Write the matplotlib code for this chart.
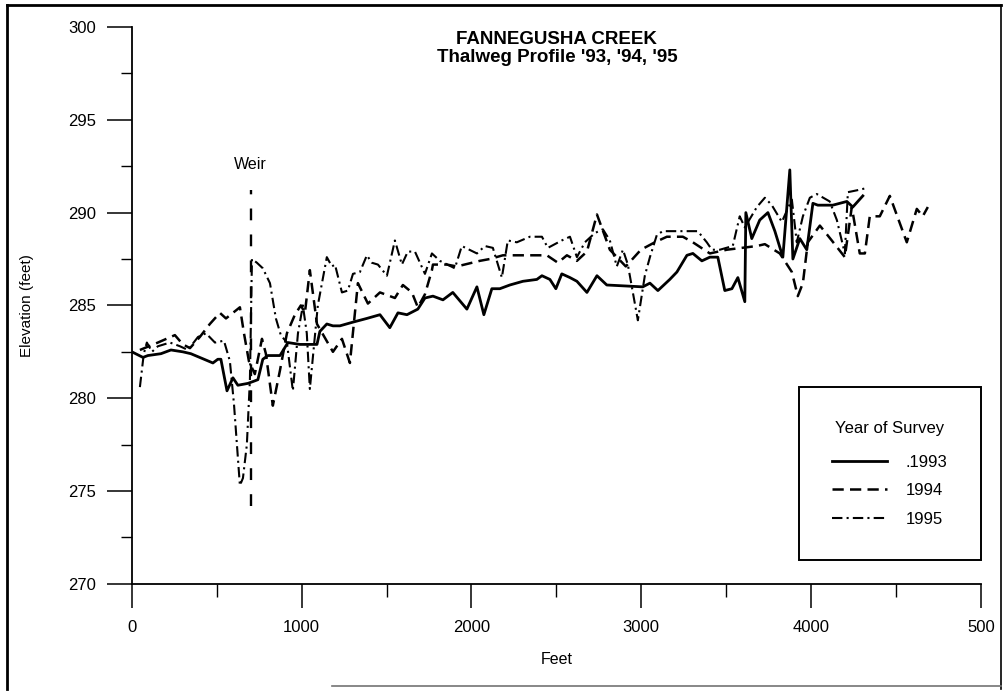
import matplotlib
matplotlib.use("Agg")
import matplotlib.pyplot as plt
from matplotlib.lines import Line2D
from matplotlib.ticker import MultipleLocator

plt.rcParams["font.family"] = ["Liberation Sans", "DejaVu Sans"]

# survey distances (ft) and thalweg elevations (ft)
x_1993 = [0, 65, 94, 171, 230, 300, 347, 477, 506, 524, 560, 595, 624, 683, 713, 742,
          771, 801, 872, 919, 989, 1090, 1107, 1148, 1184, 1225, 1302, 1384, 1461, 1519,
          1567, 1620, 1684, 1726, 1773, 1832, 1890, 1973, 2032, 2073, 2120, 2167, 2226,
          2303, 2385, 2415, 2462, 2497, 2532, 2580, 2621, 2680, 2739, 2797, 3009, 3051,
          3098, 3168, 3210, 3269, 3304, 3357, 3404, 3451, 3492, 3534, 3569, 3610, 3616,
          3651, 3698, 3746, 3787, 3834, 3875, 3893, 3934, 3975, 4011, 4040, 4128, 4211,
          4246, 4305]
elev_1993 = [282.5, 282.2, 282.3, 282.4, 282.6, 282.5, 282.4, 281.9, 282.1, 282.1, 280.4,
             281.1, 280.7, 280.8, 280.9, 281.0, 282.1, 282.3, 282.3, 283.0, 282.9, 282.9,
             283.6, 284.0, 283.9, 283.9, 284.1, 284.3, 284.5, 283.8, 284.6, 284.5, 284.8,
             285.4, 285.5, 285.3, 285.7, 284.8, 286.0, 284.5, 285.9, 285.9, 286.1, 286.3,
             286.4, 286.6, 286.4, 285.9, 286.7, 286.5, 286.3, 285.7, 286.6, 286.1, 286.0,
             286.2, 285.8, 286.4, 286.8, 287.7, 287.8, 287.4, 287.6, 287.6, 285.8, 285.9,
             286.5, 285.2, 290.0, 288.6, 289.6, 290.0, 289.0, 287.6, 292.3, 287.5, 288.6,
             288.0, 290.5, 290.4, 290.4, 290.6, 290.3, 290.9]

x_1994 = [47, 153, 253, 300, 342, 400, 459, 518, 554, 636, 660, 689, 724, 766, 789, 830,
          872, 913, 960, 995, 1019, 1048, 1090, 1184, 1237, 1284, 1331, 1390, 1461, 1549,
          1596, 1649, 1684, 1726, 1767, 1773, 1855, 1914, 2049, 2108, 2185, 2285, 2444,
          2509, 2562, 2621, 2680, 2739, 2815, 2909, 2998, 3080, 3151, 3245, 3304, 3404,
          3504, 3681, 3728, 3816, 3887, 3922, 3952, 3981, 4052, 4122, 4199, 4240, 4287,
          4317, 4346, 4405, 4464, 4564, 4623, 4658, 4688]
elev_1994 = [282.6, 283.0, 283.4, 282.9, 282.7, 283.3, 284.0, 284.6, 284.3, 284.9, 283.5,
             282.0, 281.3, 283.2, 282.4, 279.6, 281.5, 283.5, 284.5, 285.0, 284.6, 286.9,
             284.0, 282.5, 283.2, 281.9, 286.2, 285.1, 285.7, 285.4, 286.1, 285.7, 284.9,
             285.6, 286.9, 287.2, 287.2, 287.1, 287.4, 287.5, 287.7, 287.7, 287.7, 287.3,
             287.7, 287.4, 287.9, 289.9, 288.0, 287.1, 288.0, 288.4, 288.7, 288.7, 288.4,
             287.8, 288.0, 288.2, 288.3, 287.8, 286.8, 285.5, 286.2, 288.4, 289.3, 288.5,
             287.6, 290.3, 287.8, 287.8, 289.8, 289.8, 290.9, 288.4, 290.2, 289.8, 290.3]

x_1995 = [47, 70, 88, 118, 153, 224, 283, 330, 389, 436, 489, 542, 577, 601, 636, 654,
          677, 695, 707, 736, 771, 813, 848, 877, 913, 948, 978, 1007, 1030, 1048, 1095,
          1148, 1178, 1196, 1237, 1272, 1302, 1343, 1384, 1413, 1449, 1502, 1549, 1590,
          1625, 1667, 1726, 1767, 1814, 1902, 1943, 2032, 2079, 2126, 2179, 2214, 2267,
          2344, 2415, 2450, 2532, 2580, 2621, 2668, 2727, 2774, 2815, 2856, 2892, 2921,
          2980, 3021, 3051, 3092, 3127, 3269, 3333, 3386, 3416, 3463, 3539, 3580, 3610,
          3681, 3728, 3769, 3828, 3887, 3916, 3952, 3993, 4034, 4110, 4152, 4199, 4217,
          4270, 4317]
elev_1995 = [280.6, 282.4, 283.0, 282.5, 282.8, 283.0, 282.8, 282.6, 283.3, 283.5, 283.0,
             283.1, 282.0, 279.7, 275.3, 275.7, 277.5, 281.0, 287.5, 287.3, 287.0, 286.2,
             284.3, 283.4, 283.0, 280.4, 283.5, 285.0, 283.5, 280.5, 285.0, 287.6, 287.1,
             287.2, 285.7, 285.8, 286.7, 286.8, 287.7, 287.3, 287.2, 286.6, 288.5, 287.2,
             287.9, 287.9, 286.7, 287.8, 287.4, 287.0, 288.2, 287.8, 288.2, 288.1, 286.5,
             288.5, 288.4, 288.7, 288.7, 288.1, 288.5, 288.7, 287.6, 288.4, 288.9, 289.1,
             288.5, 287.1, 288.0, 287.2, 284.2, 286.6, 287.6, 288.8, 289.0, 289.0, 289.0,
             288.4, 288.0, 288.0, 288.2, 289.8, 289.2, 290.3, 290.8, 290.4, 289.5, 290.7,
             288.4, 289.8, 290.8, 291.0, 290.6, 289.6, 287.8, 291.1, 291.2, 291.3]

weir_x = 700
weir_span = [274.2, 291.2]

x_ticks = [0, 1000, 2000, 3000, 4000, 5000]
x_tick_labels = ["0", "1000", "2000", "3000", "4000", "500"]
y_ticks = [270, 275, 280, 285, 290, 295, 300]
legend_labels = [".1993", "1994", "1995"]

fig = plt.figure(figsize=(10.07, 6.91), dpi=100)
ax = fig.add_axes([0.131, 0.155, 0.843, 0.806])

ax.plot(x_1993, elev_1993, color="black", linewidth=2.0, linestyle="-", label=legend_labels[0])
ax.plot(x_1994, elev_1994, color="black", linewidth=1.8, linestyle=(0, (4.5, 2.5)),
        label=legend_labels[1])
ax.plot(x_1995, elev_1995, color="black", linewidth=1.5, linestyle=(0, (5, 2, 1, 2)),
        label=legend_labels[2])

ax.plot([weir_x, weir_x], weir_span, color="black", linewidth=1.7, linestyle=(0, (5, 6)))
ax.text(weir_x, 292.6, "Weir", ha="center", va="center", fontsize=11.5)

ax.set_xlim(0, 5000)
ax.set_ylim(270, 300)
ax.set_xticks(x_ticks)
ax.set_xticklabels(x_tick_labels)
ax.set_yticks(y_ticks)
ax.xaxis.set_minor_locator(MultipleLocator(500))
ax.yaxis.set_minor_locator(MultipleLocator(2.5))
ax.tick_params(axis="x", which="major", direction="out", length=17, width=1.1,
               pad=9, labelsize=12)
ax.tick_params(axis="x", which="minor", direction="out", length=9, width=1.0)
ax.tick_params(axis="y", which="major", direction="out", length=18, width=1.1,
               pad=8, labelsize=12)
ax.tick_params(axis="y", which="minor", direction="out", length=8, width=1.0)

for side in ("top", "right"):
    ax.spines[side].set_visible(False)
ax.spines["left"].set_linewidth(1.3)
ax.spines["bottom"].set_linewidth(1.3)

ax.set_xlabel("Feet", fontsize=11.5, labelpad=12)
ax.set_ylabel("Elevation (feet)", fontsize=11, labelpad=24)

fig.text(0.553, 1 - 40 / 691, "FANNEGUSHA CREEK", ha="center", va="center",
         fontsize=13.5, fontweight="bold")
fig.text(0.553, 1 - 58 / 691, "Thalweg Profile '93, '94, '95", ha="center", va="center",
         fontsize=13.5, fontweight="bold")

leg = ax.legend(loc="lower right", bbox_to_anchor=(1.0, 0.043), borderaxespad=0,
                title="Year of Survey", fontsize=12, title_fontsize=12, frameon=True,
                fancybox=False, edgecolor="black", framealpha=1, borderpad=2.0,
                handlelength=3.3, handletextpad=1.1, labelspacing=0.8)
leg.get_frame().set_linewidth(1.4)
leg._legend_box.sep = 14

# scanned page border
fig.add_artist(Line2D([0.007, 0.007], [0.003, 0.993], transform=fig.transFigure,
                      color="black", linewidth=2))
fig.add_artist(Line2D([0.007, 0.994], [0.993, 0.993], transform=fig.transFigure,
                      color="black", linewidth=2))
fig.add_artist(Line2D([0.994, 0.994], [0.003, 0.993], transform=fig.transFigure,
                      color="black", linewidth=1.2))
fig.add_artist(Line2D([0.33, 0.994], [0.007, 0.007], transform=fig.transFigure,
                      color="0.45", linewidth=1.2))

fig.savefig("out.png", dpi=100)
